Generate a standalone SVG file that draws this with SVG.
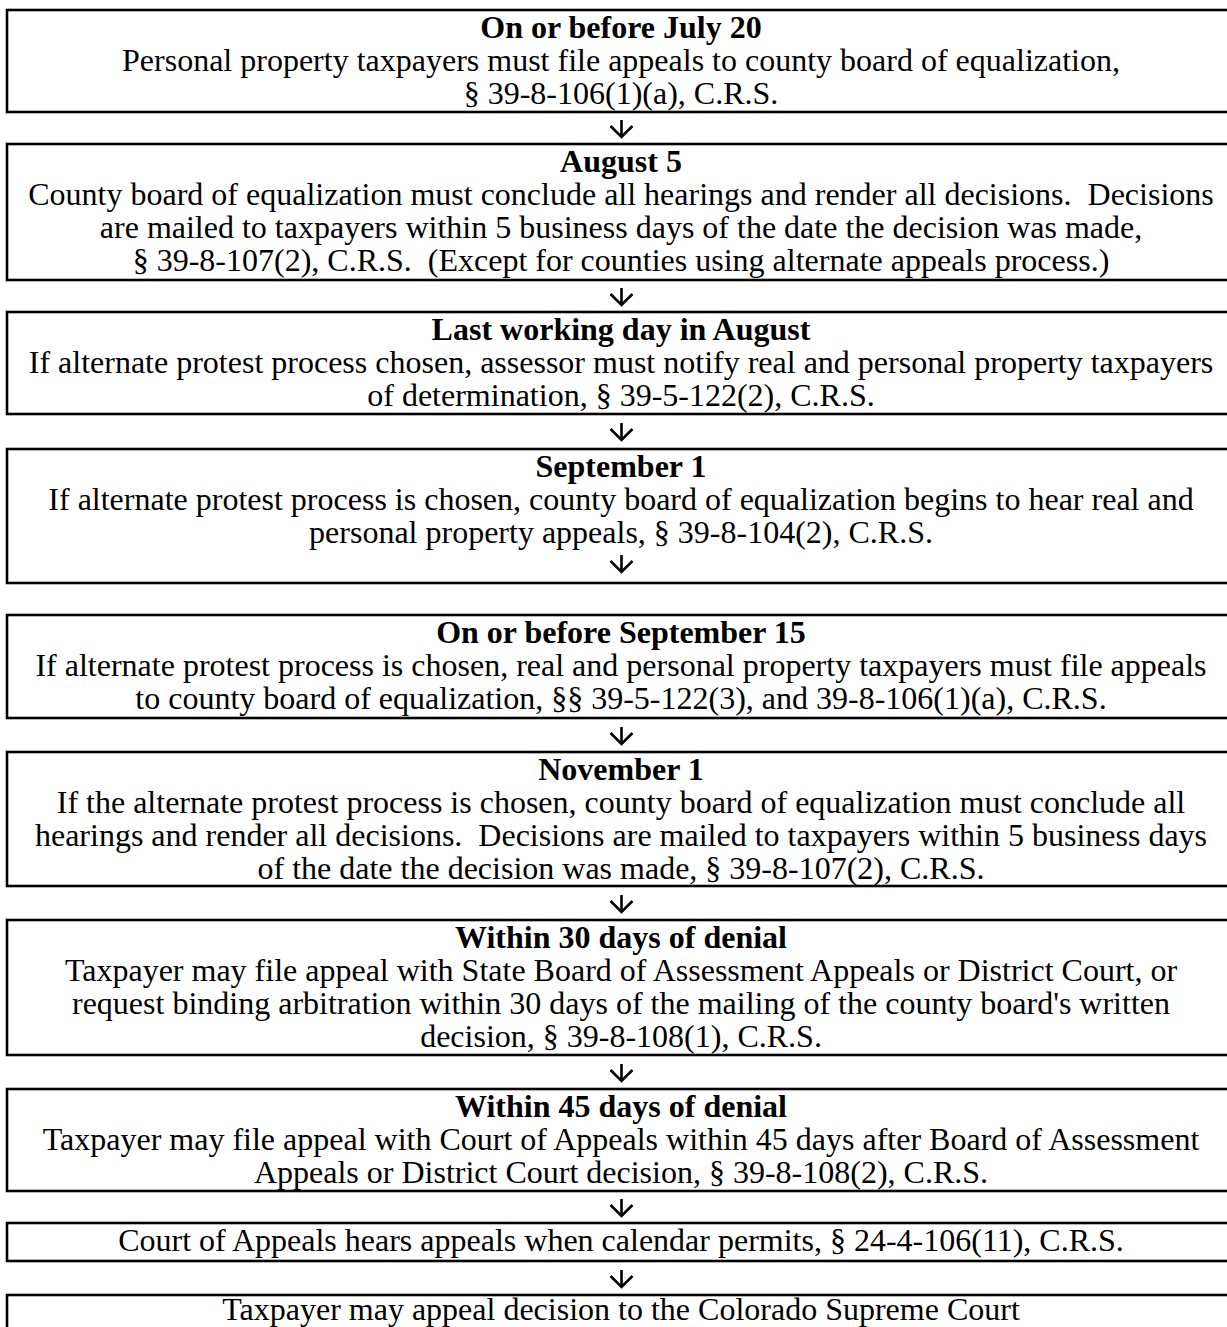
<svg xmlns="http://www.w3.org/2000/svg" width="1227" height="1327" viewBox="0 0 1227 1327">
<style>
.box{fill:#fff;stroke:#000;stroke-width:2.6}
text{font-family:"Liberation Serif","Times New Roman",serif;font-size:32px;fill:#000;text-anchor:middle;white-space:pre}
.h{font-weight:bold}
.arr{fill:none;stroke:#000;stroke-width:2.6}
</style>
<defs>
<path id="ar" d="M0,0 V17 M-11,6 L0,17 L11,6"/>
</defs>
<rect width="1227" height="1327" fill="#fff"/>
<g id="n1">
<rect class="box" x="7" y="10" width="1240" height="102"/>
<text x="621" y="38" class="h">On or before July 20</text>
<text x="621" y="71">Personal property taxpayers must file appeals to county board of equalization,</text>
<text x="621" y="104">§ 39-8-106(1)(a), C.R.S.</text>
</g>
<g id="n2">
<rect class="box" x="7" y="144" width="1240" height="136"/>
<text x="621" y="172" class="h">August 5</text>
<text x="621" y="205" xml:space="preserve">County board of equalization must conclude all hearings and render all decisions.  Decisions</text>
<text x="621" y="238">are mailed to taxpayers within 5 business days of the date the decision was made,</text>
<text x="621" y="271" xml:space="preserve">§ 39-8-107(2), C.R.S.  (Except for counties using alternate appeals process.)</text>
</g>
<g id="n3">
<rect class="box" x="7" y="312" width="1240" height="102"/>
<text x="621" y="340" class="h">Last working day in August</text>
<text x="621" y="373">If alternate protest process chosen, assessor must notify real and personal property taxpayers</text>
<text x="621" y="406">of determination, § 39-5-122(2), C.R.S.</text>
</g>
<g id="n4">
<rect class="box" x="7" y="449" width="1240" height="134"/>
<text x="621" y="477" class="h">September 1</text>
<text x="621" y="510">If alternate protest process is chosen, county board of equalization begins to hear real and</text>
<text x="621" y="543">personal property appeals, § 39-8-104(2), C.R.S.</text>
</g>
<g id="n5">
<rect class="box" x="7" y="615" width="1240" height="103"/>
<text x="621" y="643" class="h">On or before September 15</text>
<text x="621" y="676">If alternate protest process is chosen, real and personal property taxpayers must file appeals</text>
<text x="621" y="709">to county board of equalization, §§ 39-5-122(3), and 39-8-106(1)(a), C.R.S.</text>
</g>
<g id="n6">
<rect class="box" x="7" y="752" width="1240" height="134"/>
<text x="621" y="780" class="h">November 1</text>
<text x="621" y="813">If the alternate protest process is chosen, county board of equalization must conclude all</text>
<text x="621" y="846" xml:space="preserve">hearings and render all decisions.  Decisions are mailed to taxpayers within 5 business days</text>
<text x="621" y="879">of the date the decision was made, § 39-8-107(2), C.R.S.</text>
</g>
<g id="n7">
<rect class="box" x="7" y="920" width="1240" height="135"/>
<text x="621" y="948" class="h">Within 30 days of denial</text>
<text x="621" y="981">Taxpayer may file appeal with State Board of Assessment Appeals or District Court, or</text>
<text x="621" y="1014">request binding arbitration within 30 days of the mailing of the county board's written</text>
<text x="621" y="1047">decision, § 39-8-108(1), C.R.S.</text>
</g>
<g id="n8">
<rect class="box" x="7" y="1089" width="1240" height="102"/>
<text x="621" y="1117" class="h">Within 45 days of denial</text>
<text x="621" y="1150">Taxpayer may file appeal with Court of Appeals within 45 days after Board of Assessment</text>
<text x="621" y="1183">Appeals or District Court decision, § 39-8-108(2), C.R.S.</text>
</g>
<g id="n9">
<rect class="box" x="7" y="1223" width="1240" height="38"/>
<text x="621" y="1251">Court of Appeals hears appeals when calendar permits, § 24-4-106(11), C.R.S.</text>
</g>
<g id="n10">
<rect class="box" x="7" y="1295" width="1240" height="60"/>
<text x="621" y="1320">Taxpayer may appeal decision to the Colorado Supreme Court</text>
</g>
<g id="connectors" class="arr">
<use href="#ar" x="621.5" y="120"/>
<use href="#ar" x="621.5" y="288"/>
<use href="#ar" x="621.5" y="423"/>
<use href="#ar" x="621.5" y="555"/>
<use href="#ar" x="621.5" y="727"/>
<use href="#ar" x="621.5" y="895"/>
<use href="#ar" x="621.5" y="1064"/>
<use href="#ar" x="621.5" y="1199"/>
<use href="#ar" x="621.5" y="1270"/>
</g>
</svg>
